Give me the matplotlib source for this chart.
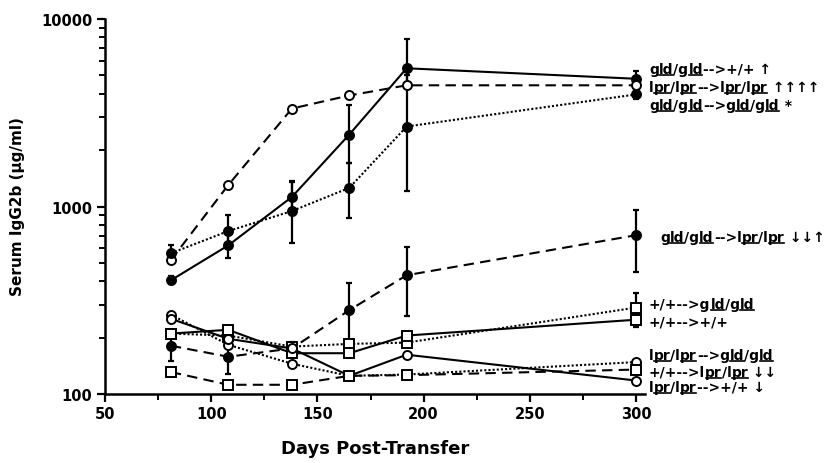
import numpy as np
import matplotlib
matplotlib.use('Agg')
import matplotlib.pyplot as plt
from matplotlib.transforms import IdentityTransform
from matplotlib.lines import Line2D
from matplotlib.ticker import FixedLocator, LogLocator, NullFormatter

days = [81, 108, 138, 165, 192, 300]

# mean serum IgG2b (ug/ml); *_lo / *_hi = error bar ends (None = no bar)
gld_to_wt = [404, 620, 1125, 2420, 5460, 4800]
gld_to_wt_lo = [385, 530, 900, 1700, 4300, 4300]
gld_to_wt_hi = [425, 720, 1370, 3460, 7810, 5300]

lpr_to_lpr = [517, 1300, 3330, 3910, 4430, 4430]

gld_to_gld = [563, 739, 946, 1257, 2670, 3960]
gld_to_gld_lo = [510, 640, 640, 870, 1210, 3750]
gld_to_gld_hi = [620, 900, 1350, 1700, 5000, 4200]

gld_to_lpr = [181, 158, 175, 280, 430, 703]
gld_to_lpr_lo = [150, 128, 160, 190, 262, 450]
gld_to_lpr_hi = [215, 195, 190, 390, 607, 957]

wt_to_gld = [210, 205, 179, 185, 188, 289]
wt_to_gld_lo = [None, None, None, None, None, 245]
wt_to_gld_hi = [None, None, None, None, None, 344]

wt_to_wt = [210, 220, 165, 165, 205, 249]
wt_to_wt_lo = [None, None, None, None, None, 229]
wt_to_wt_hi = [None, None, None, None, None, 270]

lpr_to_gld = [265, 183, 145, 125, 127, 148]
lpr_to_wt = [252, 197, 175, 125, 162, 118]
wt_to_lpr = [131, 112, 112, 125, 126, 135]

series = [
    # values, lo, hi, linestyle, marker, filled
    (gld_to_wt, gld_to_wt_lo, gld_to_wt_hi, '-', 'o', True),
    (lpr_to_lpr, None, None, (0, (5, 3)), 'o', False),
    (gld_to_gld, gld_to_gld_lo, gld_to_gld_hi, (0, (1, 1)), 'o', True),
    (gld_to_lpr, gld_to_lpr_lo, gld_to_lpr_hi, (0, (5, 3)), 'o', True),
    (wt_to_gld, wt_to_gld_lo, wt_to_gld_hi, (0, (1, 1)), 's', False),
    (wt_to_wt, wt_to_wt_lo, wt_to_wt_hi, '-', 's', False),
    (lpr_to_gld, None, None, (0, (1, 1)), 'o', False),
    (lpr_to_wt, None, None, '-', 'o', False),
    (wt_to_lpr, None, None, (0, (5, 3)), 's', False),
]

# right-hand labels: text between underscores is underlined
labels = [
    'g_ld_/g_ld_-->+/+ \u2191',
    'l_pr_/l_pr_-->l_pr_/l_pr_ \u2191\u2191\u2191\u2191',
    'g_ld_/g_ld_-->g_ld_/g_ld_ *',
    'g_ld_/g_ld_-->l_pr_/l_pr_ \u2193\u2193\u2191',
    '+/+-->g_ld_/g_ld_',
    '+/+-->+/+',
    'l_pr_/l_pr_-->g_ld_/g_ld_',
    '+/+-->l_pr_/l_pr_ \u2193\u2193',
    'l_pr_/l_pr_-->+/+ \u2193',
]
label_x = [649, 649, 649, 660, 649, 649, 649, 649, 649]
label_y = [70, 88, 106, 238, 305, 323, 356, 373, 388]

W, H = 832, 464
fig = plt.figure(figsize=(W / 100, H / 100), dpi=100)
ax = fig.add_axes([105 / W, (H - 395) / H, 540 / W, 375 / H])

for vals, lo, hi, ls, mk, filled in series:
    if lo is not None:
        for d, v, l, h in zip(days, vals, lo, hi):
            if l is None:
                continue
            ax.errorbar([d], [v], yerr=[[v - l], [h - v]], fmt='none',
                        ecolor='black', elinewidth=1.6, capsize=2.5,
                        capthick=1.6, zorder=2)
    ax.plot(days, vals, linestyle=ls, color='black', linewidth=1.5,
            marker=mk, markersize=6.5 if mk == 'o' else 7,
            markerfacecolor='black' if filled else 'white',
            markeredgecolor='black', markeredgewidth=1.4, zorder=3)

ax.set_yscale('log')
ax.set_ylim(100, 10000)
ax.set_xlim(50, 304.2)
ax.xaxis.set_major_locator(FixedLocator([50, 100, 150, 200, 250, 300]))
ax.xaxis.set_minor_locator(FixedLocator([75, 125, 175, 225, 275]))
ax.yaxis.set_major_locator(FixedLocator([100, 1000, 10000]))
ax.yaxis.set_minor_locator(LogLocator(base=10, subs=np.arange(2, 10)))
ax.yaxis.set_minor_formatter(NullFormatter())
ax.set_yticklabels(['100', '1000', '10000'])
for spine in ['top', 'right']:
    ax.spines[spine].set_visible(False)
for spine in ['left', 'bottom']:
    ax.spines[spine].set_linewidth(1.8)
ax.tick_params(which='major', direction='out', length=6, width=1.6,
               labelsize=10.5, pad=3)
ax.tick_params(which='minor', direction='out', length=4, width=1.4)
for lab in ax.get_xticklabels() + ax.get_yticklabels():
    lab.set_fontweight('bold')

fig.text(375, H - 449, 'Days Post-Transfer', transform=IdentityTransform(),
         ha='center', va='center', fontsize=13, fontweight='bold')
fig.text(18, H - 207, 'Serum IgG2b (\u00b5g/ml)', transform=IdentityTransform(),
         ha='center', va='center', rotation=90, fontsize=11, fontweight='bold')

renderer = fig.canvas.get_renderer()
for text, x0, yc in zip(labels, label_x, label_y):
    x = x0
    base = H - yc - 4
    for i, part in enumerate(text.split('_')):
        if part == '':
            continue
        t = fig.text(x, base, part, transform=IdentityTransform(),
                     ha='left', va='baseline', fontsize=10, fontweight='bold')
        bb = t.get_window_extent(renderer)
        if i % 2 == 1:
            fig.add_artist(Line2D([bb.x0 + 0.5, bb.x1 - 0.5], [base - 2, base - 2],
                                  transform=IdentityTransform(),
                                  color='black', linewidth=1.2))
        x = bb.x1

fig.savefig('out.png', dpi=100)
